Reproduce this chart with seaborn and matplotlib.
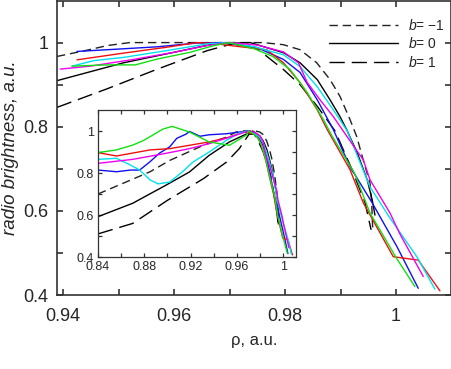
import pandas as pd
import matplotlib
matplotlib.use('Agg')
import matplotlib.pyplot as plt
from matplotlib.ticker import FixedLocator, FuncFormatter
import seaborn as sns

# Main panel curves: (rho, radio brightness)
bm1_main = [(0.9389, 0.967), (0.944, 0.981), (0.948, 0.993), (0.952, 1.0), (0.960, 1.0), (0.970, 1.0),
            (0.976, 1.0), (0.9797, 0.995), (0.9827, 0.983), (0.9857, 0.952), (0.9881, 0.912), (0.9899, 0.872),
            (0.9917, 0.817), (0.9929, 0.777), (0.9944, 0.706), (0.9953, 0.667), (0.9956, 0.62), (0.9958, 0.555)]
b0_main = [(0.9389, 0.9095), (0.9509, 0.952), (0.960, 0.977), (0.9672, 0.997), (0.9737, 1.0), (0.9797, 0.976),
           (0.9827, 0.952), (0.9858, 0.912), (0.9881, 0.864), (0.9899, 0.824), (0.9911, 0.793), (0.993, 0.738),
           (0.9948, 0.674), (0.9957, 0.626), (0.9962, 0.59)]
b1_main = [(0.9389, 0.846), (0.9479, 0.89), (0.957, 0.937), (0.966, 0.981), (0.9705, 0.997), (0.975, 0.985),
           (0.9797, 0.936), (0.9827, 0.90), (0.986, 0.845), (0.989, 0.79), (0.992, 0.70), (0.9944, 0.62),
           (0.9955, 0.555)]
blue_main = [(0.9425, 0.979), (0.9479, 0.983), (0.957, 0.990), (0.9641, 0.999), (0.9695, 1.0), (0.975, 0.988),
             (0.9797, 0.96), (0.9827, 0.929), (0.9858, 0.864), (0.9887, 0.793), (0.9917, 0.705), (0.9957, 0.619),
             (1.0002, 0.514), (1.004, 0.416)]
red_main = [(0.9425, 0.959), (0.9509, 0.975), (0.9587, 0.989), (0.9641, 1.0), (0.967, 0.998), (0.9714, 0.991),
            (0.9767, 0.983), (0.9797, 0.952), (0.9827, 0.905), (0.9858, 0.84), (0.9876, 0.793), (0.9917, 0.698),
            (0.9941, 0.619), (0.9995, 0.491), (1.004, 0.483), (1.0079, 0.41)]
cyan_main = [(0.9416, 0.944), (0.9455, 0.957), (0.951, 0.965), (0.9587, 0.981), (0.966, 0.997), (0.9695, 1.0),
             (0.9745, 0.99), (0.9797, 0.971), (0.9827, 0.943), (0.9858, 0.895), (0.9887, 0.84), (0.9912, 0.79),
             (0.9953, 0.657), (0.9989, 0.583), (1.0038, 0.49), (1.007, 0.414)]
magenta_main = [(0.9395, 0.937), (0.9449, 0.944), (0.9527, 0.96), (0.960, 0.977), (0.966, 0.993), (0.970, 1.0),
                (0.975, 0.994), (0.9797, 0.978), (0.9824, 0.952), (0.984, 0.905), (0.9863, 0.864), (0.9887, 0.824),
                (0.9912, 0.776), (0.9941, 0.721), (0.9953, 0.674), (0.9989, 0.595), (1.0007, 0.545), (1.0049, 0.444)]
green_main = [(0.9416, 0.944), (0.9479, 0.947), (0.953, 0.947), (0.957, 0.961), (0.9629, 0.977), (0.9672, 0.993),
              (0.970, 1.0), (0.9745, 0.985), (0.9778, 0.967), (0.9809, 0.936), (0.984, 0.881), (0.9869, 0.817),
              (0.9885, 0.777), (0.9925, 0.69), (0.9953, 0.595), (1.0001, 0.487), (1.0034, 0.42)]

# Inset curves, left part (0.84 .. peak); the fall-off is shared with the main panel
bm1_ins = [(0.84, 0.70), (0.885, 0.806), (0.902, 0.86), (0.931, 0.932), (0.951, 0.971), (0.959, 0.995),
           (0.966, 1.0), (0.976, 1.0)]
b0_ins = [(0.84, 0.592), (0.870, 0.656), (0.899, 0.743), (0.919, 0.805), (0.936, 0.884), (0.9535, 0.948),
          (0.9737, 1.0)]
b1_ins = [(0.84, 0.51), (0.870, 0.56), (0.900, 0.67), (0.931, 0.773), (0.951, 0.852), (0.962, 0.916),
          (0.9705, 0.985)]
blue_ins = [(0.84, 0.814), (0.856, 0.806), (0.868, 0.814), (0.876, 0.814), (0.885, 0.854), (0.893, 0.894),
            (0.902, 0.925), (0.908, 0.965), (0.916, 0.985), (0.919, 0.998), (0.928, 0.975), (0.936, 0.982),
            (0.951, 0.987), (0.962, 0.995), (0.9695, 1.0)]
red_ins = [(0.84, 0.897), (0.856, 0.881), (0.870, 0.895), (0.885, 0.91), (0.902, 0.916), (0.919, 0.932),
           (0.936, 0.948), (0.9535, 0.971), (0.965, 0.995), (0.9714, 0.991)]
cyan_ins = [(0.84, 0.865), (0.856, 0.87), (0.868, 0.838), (0.876, 0.814), (0.885, 0.767), (0.892, 0.748),
            (0.902, 0.757), (0.913, 0.806), (0.922, 0.852), (0.936, 0.90), (0.951, 0.956), (0.962, 0.99),
            (0.9695, 1.0)]
magenta_ins = [(0.84, 0.846), (0.870, 0.865), (0.899, 0.894), (0.919, 0.916), (0.936, 0.94), (0.9535, 0.97),
               (0.970, 1.0)]
green_ins = [(0.84, 0.897), (0.856, 0.91), (0.870, 0.933), (0.879, 0.954), (0.885, 0.973), (0.896, 1.009),
             (0.904, 1.022), (0.919, 0.995), (0.936, 0.948), (0.9535, 0.932), (0.968, 0.98), (0.970, 1.0)]

legend_labels = ['$b$= \u22121', '$b$= 0', '$b$= 1']

sns.set_style('ticks')
plt.rcParams['font.family'] = ['Liberation Sans', 'DejaVu Sans']
plt.rcParams['mathtext.fontset'] = 'custom'
plt.rcParams['mathtext.it'] = 'Liberation Sans:italic'
plt.rcParams['mathtext.rm'] = 'Liberation Sans'

short_dash = (0, (6, 3.5))
long_dash = (0, (11, 5))

# name -> (main points, inset points, colour, line style)
series = {
    'b=-1': (bm1_main, bm1_ins, '#222222', short_dash),
    'b=0': (b0_main, b0_ins, 'black', '-'),
    'b=1': (b1_main, b1_ins, 'black', long_dash),
    'blue': (blue_main, blue_ins, '#1010f0', '-'),
    'red': (red_main, red_ins, '#f01010', '-'),
    'cyan': (cyan_main, cyan_ins, '#00e0f0', '-'),
    'magenta': (magenta_main, magenta_ins, '#f000f0', '-'),
    'green': (green_main, green_ins, '#10e010', '-'),
}


def draw(ax, pts, color, ls, label=None):
    df = pd.DataFrame(pts, columns=['rho', 'val'])
    sns.lineplot(data=df, x='rho', y='val', ax=ax, color=color, linestyle=ls, lw=1.0,
                 sort=False, estimator=None, label=label, legend=False)


def style_axes(ax, xmaj, xmin, size, length, lw, xpad, ypad):
    ax.xaxis.set_major_locator(FixedLocator(xmaj))
    ax.xaxis.set_minor_locator(FixedLocator(xmin))
    ax.yaxis.set_major_locator(FixedLocator([0.4, 0.6, 0.8, 1.0]))
    ax.yaxis.set_minor_locator(FixedLocator([0.5, 0.7, 0.9]))
    fmt = FuncFormatter(lambda v, p: f'{v:g}')
    ax.xaxis.set_major_formatter(fmt)
    ax.yaxis.set_major_formatter(fmt)
    ax.tick_params(which='both', direction='in', top=True, right=True, length=length,
                   width=lw, color='#333333', labelsize=size)
    ax.tick_params(axis='x', pad=xpad)
    ax.tick_params(axis='y', pad=ypad)
    for sp in ax.spines.values():
        sp.set_visible(True)
        sp.set_linewidth(lw)
        sp.set_color('#333333')
    ax.set_xlabel('')
    ax.set_ylabel('')


fig = plt.figure(figsize=(4.52, 3.69), dpi=100)
ax = fig.add_axes([0.1261, 0.2005, 0.8717, 0.7981])

handles = []
for name, (pts_main, pts_ins, color, ls) in series.items():
    label = legend_labels[len(handles)] if name.startswith('b=') else None
    draw(ax, pts_main, color, ls, label)
    if label:
        handles.append(ax.lines[-1])

ax.set_xlim(0.9389, 1.0099)
ax.set_ylim(0.4, 1.1)
style_axes(ax, [0.94, 0.96, 0.98, 1.0], [0.95, 0.97, 0.99], 13, 4, 1.2, 9, 6)
ax.set_xlabel('\u03c1, a.u.', fontsize=12, labelpad=6)
ax.set_ylabel('radio brightness, a.u.', fontsize=13.5, style='italic', labelpad=3)
ax.legend(handles=handles, labels=legend_labels, loc='upper right', frameon=False,
          bbox_to_anchor=(0.998, 0.96), borderaxespad=0, fontsize=10, handlelength=5,
          handletextpad=0.7, labelspacing=0.25)

# inset with the wider range
ins = fig.add_axes([0.2168, 0.3035, 0.4381, 0.3984])
ins.set_facecolor('white')
for name, (pts_main, pts_ins, color, ls) in series.items():
    tail = [p for p in pts_main if p[0] > pts_ins[-1][0]]
    draw(ins, pts_ins + tail, color, ls)
ins.set_xlim(0.84, 1.011)
ins.set_ylim(0.4, 1.1)
style_axes(ins, [0.84, 0.88, 0.92, 0.96, 1.0], [0.86, 0.90, 0.94, 0.98], 9, 3, 0.9, 3, 3)

fig.savefig('out.png', dpi=100)
